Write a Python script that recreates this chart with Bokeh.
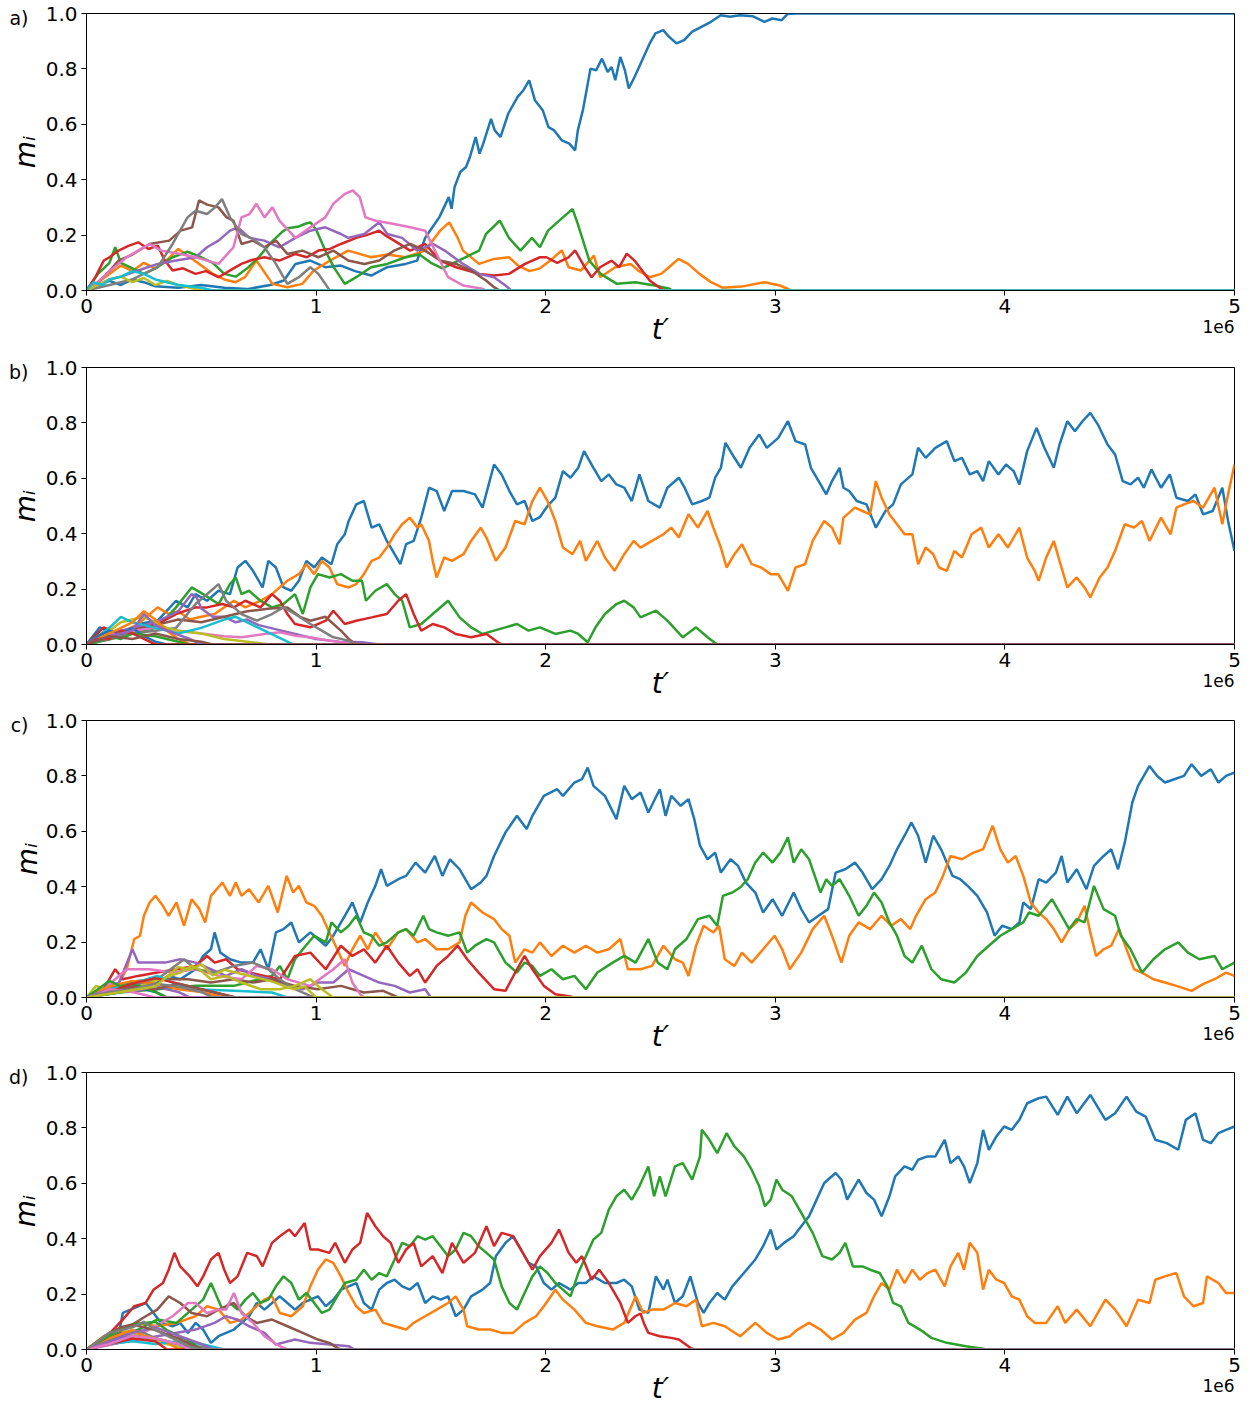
from bokeh.plotting import figure
from bokeh.layouts import column
from bokeh.models import FixedTicker, Range1d, PrintfTickFormatter, LinearAxis
from bokeh.embed import file_html
from bokeh.resources import INLINE

# ---------------- data (t' in units of 1e6, m_i) ----------------
TAB10 = ["#1f77b4", "#ff7f0e", "#2ca02c", "#d62728", "#9467bd",
         "#8c564b", "#e377c2", "#7f7f7f", "#bcbd22", "#17becf"]
X_TICKS = [0, 1, 2, 3, 4, 5]
X_TICK_LABELS = ["0", "1", "2", "3", "4", "5"]
Y_TICKS = [0.0, 0.2, 0.4, 0.6, 0.8, 1.0]
Y_TICK_LABELS = ["0.0", "0.2", "0.4", "0.6", "0.8", "1.0"]
PANEL_LETTERS = ["a)", "b)", "c)", "d)"]
X_LABEL = "t\u2032"
Y_LABEL = "m\u1d62"
X_OFFSET_LABEL = "1e6"

# ---- panel a ----
a_blue = [(0,0),(0.05,0.02),(0.1,0.035),(0.15,0.02),(0.2,0.04),(0.25,0.03),(0.3,0.015),(0.4,0.01),(0.5,0.02),(0.6,0.01),(0.7,0.005),(0.8,0.02),(0.86,0.036),(0.91,0.096),(0.975,0.108),(1.04,0.084),(1.108,0.09),(1.17,0.07),(1.24,0.054),(1.31,0.084),(1.39,0.096),(1.44,0.108),(1.475,0.19),(1.487,0.205),(1.537,0.265),(1.578,0.337),(1.59,0.295),(1.603,0.373),(1.628,0.428),(1.653,0.446),(1.67,0.482),(1.695,0.554),(1.712,0.494),(1.728,0.53),(1.762,0.62),(1.778,0.578),(1.803,0.554),(1.837,0.639),(1.878,0.699),(1.903,0.723),(1.928,0.759),(1.953,0.687),(1.987,0.651),(2.012,0.59),(2.037,0.578),(2.07,0.542),(2.103,0.53),(2.128,0.506),(2.14,0.578),(2.162,0.651),(2.178,0.723),(2.195,0.801),(2.22,0.795),(2.245,0.837),(2.27,0.789),(2.287,0.807),(2.303,0.759),(2.325,0.843),(2.345,0.795),(2.362,0.729),(2.387,0.771),(2.42,0.831),(2.453,0.892),(2.478,0.928),(2.512,0.94),(2.537,0.916),(2.57,0.892),(2.603,0.904),(2.637,0.934),(2.678,0.952),(2.72,0.97),(2.762,0.994),(2.803,0.988),(2.845,0.994),(2.903,0.99),(2.953,0.97),(2.987,0.982),(3.028,0.976),(3.053,0.998),(3.087,1.0),(5,1.0)]
a_orange = [(0,0),(0.05,0.03),(0.1,0.06),(0.15,0.09),(0.2,0.07),(0.25,0.1),(0.3,0.08),(0.35,0.11),(0.4,0.15),(0.45,0.12),(0.5,0.09),(0.55,0.06),(0.6,0.04),(0.65,0.03),(0.69,0.048),(0.74,0.108),(0.81,0.024),(0.875,0.012),(0.94,0.024),(0.99,0.072),(1.06,0.108),(1.14,0.144),(1.24,0.12),(1.31,0.13),(1.39,0.12),(1.475,0.144),(1.54,0.216),(1.58,0.246),(1.617,0.19),(1.64,0.144),(1.71,0.096),(1.775,0.114),(1.84,0.12),(1.88,0.09),(1.93,0.07),(1.975,0.08),(2.02,0.108),(2.07,0.145),(2.1,0.084),(2.153,0.072),(2.21,0.126),(2.237,0.048),(2.303,0.084),(2.37,0.096),(2.403,0.072),(2.453,0.048),(2.503,0.06),(2.537,0.084),(2.578,0.114),(2.62,0.096),(2.67,0.06),(2.72,0.03),(2.77,0.01),(2.853,0.014),(2.953,0.03),(3.02,0.018),(3.07,0.0),(5,0)]
a_green = [(0,0),(0.05,0.06),(0.1,0.1),(0.125,0.156),(0.15,0.1),(0.2,0.08),(0.25,0.06),(0.3,0.08),(0.375,0.12),(0.44,0.14),(0.5,0.12),(0.55,0.1),(0.6,0.06),(0.65,0.05),(0.7,0.08),(0.75,0.12),(0.8,0.17),(0.85,0.21),(0.875,0.225),(0.92,0.23),(0.95,0.24),(0.975,0.246),(1.0,0.22),(1.04,0.144),(1.08,0.08),(1.125,0.024),(1.175,0.048),(1.24,0.084),(1.31,0.096),(1.39,0.12),(1.45,0.13),(1.5,0.1),(1.55,0.08),(1.6,0.1),(1.65,0.12),(1.71,0.144),(1.74,0.204),(1.8,0.252),(1.84,0.19),(1.89,0.144),(1.94,0.19),(1.975,0.156),(2.01,0.216),(2.075,0.264),(2.117,0.294),(2.14,0.24),(2.19,0.108),(2.24,0.06),(2.31,0.024),(2.39,0.03),(2.475,0.018),(2.54,0.006),(2.55,0),(5,0)]
a_red = [(0,0),(0.04,0.05),(0.075,0.108),(0.1,0.12),(0.14,0.144),(0.18,0.16),(0.225,0.174),(0.27,0.15),(0.31,0.162),(0.34,0.11),(0.375,0.072),(0.42,0.08),(0.475,0.06),(0.52,0.07),(0.575,0.048),(0.62,0.07),(0.675,0.096),(0.72,0.11),(0.775,0.12),(0.84,0.108),(0.91,0.132),(0.96,0.12),(1.01,0.144),(1.06,0.15),(1.108,0.168),(1.175,0.19),(1.22,0.2),(1.275,0.216),(1.3,0.2),(1.34,0.18),(1.41,0.144),(1.475,0.168),(1.54,0.108),(1.61,0.084),(1.71,0.06),(1.775,0.054),(1.84,0.06),(1.91,0.096),(1.975,0.12),(2.003,0.12),(2.05,0.1),(2.1,0.12),(2.128,0.145),(2.17,0.084),(2.2,0.048),(2.237,0.084),(2.287,0.108),(2.32,0.084),(2.353,0.133),(2.387,0.108),(2.42,0.072),(2.453,0.036),(2.503,0.006),(2.52,0),(5,0)]
a_purple = [(0,0),(0.05,0.02),(0.1,0.04),(0.15,0.05),(0.225,0.072),(0.31,0.096),(0.39,0.108),(0.475,0.12),(0.525,0.156),(0.575,0.18),(0.625,0.216),(0.66,0.228),(0.71,0.19),(0.775,0.18),(0.84,0.156),(0.91,0.19),(0.975,0.216),(1.04,0.228),(1.108,0.204),(1.14,0.19),(1.21,0.204),(1.275,0.246),(1.31,0.204),(1.375,0.19),(1.44,0.144),(1.51,0.168),(1.56,0.144),(1.64,0.096),(1.71,0.06),(1.775,0.048),(1.825,0.018),(1.85,0),(5,0)]
a_brown = [(0,0),(0.05,0.03),(0.1,0.07),(0.14,0.108),(0.2,0.13),(0.275,0.168),(0.36,0.18),(0.41,0.216),(0.46,0.228),(0.49,0.325),(0.525,0.31),(0.575,0.3),(0.61,0.264),(0.64,0.252),(0.675,0.168),(0.725,0.18),(0.775,0.156),(0.825,0.18),(0.875,0.132),(0.94,0.144),(1.01,0.12),(1.075,0.144),(1.14,0.108),(1.21,0.096),(1.275,0.108),(1.34,0.144),(1.41,0.168),(1.475,0.144),(1.54,0.108),(1.61,0.096),(1.675,0.072),(1.74,0.036),(1.775,0.012),(1.8,0),(5,0)]
a_pink = [(0,0),(0.05,0.03),(0.1,0.07),(0.175,0.12),(0.225,0.144),(0.275,0.168),(0.325,0.144),(0.41,0.132),(0.475,0.12),(0.575,0.096),(0.64,0.156),(0.675,0.264),(0.71,0.276),(0.74,0.313),(0.775,0.264),(0.81,0.3),(0.84,0.252),(0.91,0.19),(0.975,0.228),(1.04,0.264),(1.075,0.313),(1.125,0.349),(1.16,0.361),(1.19,0.337),(1.215,0.264),(1.26,0.252),(1.34,0.24),(1.41,0.228),(1.475,0.216),(1.525,0.132),(1.575,0.048),(1.64,0.018),(1.725,0.006),(1.74,0),(5,0)]
a_gray = [(0,0),(0.1,0.02),(0.2,0.04),(0.31,0.084),(0.375,0.168),(0.44,0.264),(0.475,0.288),(0.525,0.276),(0.56,0.3),(0.59,0.33),(0.625,0.264),(0.675,0.204),(0.725,0.186),(0.775,0.156),(0.825,0.096),(0.875,0.024),(0.925,0.048),(0.975,0.084),(1.01,0.06),(1.06,0),(5,0)]
a_olive = [(0,0),(0.05,0.02),(0.1,0.04),(0.15,0.05),(0.2,0.03),(0.25,0.045),(0.3,0.02),(0.35,0.035),(0.4,0.02),(0.45,0.01),(0.5,0),(5,0)]
a_cyan = [(0,0),(0.03,0.03),(0.07,0.02),(0.1,0.04),(0.15,0.05),(0.2,0.07),(0.25,0.06),(0.3,0.04),(0.35,0.03),(0.4,0.02),(0.5,0.01),(0.55,0),(5,0)]

# ---- panel b ----
b_blue = [(0,0),(0.058,0.062),(0.14,0.026),(0.225,0.074),(0.31,0.086),(0.39,0.158),(0.44,0.134),(0.475,0.182),(0.525,0.158),(0.575,0.194),(0.625,0.182),(0.658,0.278),(0.692,0.302),(0.725,0.266),(0.767,0.206),(0.792,0.302),(0.825,0.278),(0.858,0.206),(0.892,0.194),(0.925,0.23),(0.958,0.302),(0.992,0.278),(1.025,0.314),(1.067,0.29),(1.092,0.362),(1.125,0.398),(1.142,0.446),(1.175,0.506),(1.208,0.518),(1.242,0.422),(1.275,0.434),(1.308,0.374),(1.342,0.326),(1.367,0.29),(1.392,0.362),(1.425,0.374),(1.458,0.458),(1.492,0.566),(1.525,0.554),(1.558,0.482),(1.592,0.554),(1.642,0.554),(1.692,0.542),(1.725,0.494),(1.775,0.65),(1.808,0.614),(1.842,0.554),(1.875,0.506),(1.908,0.518),(1.942,0.446),(1.975,0.46),(2.008,0.5),(2.042,0.53),(2.075,0.626),(2.108,0.602),(2.142,0.638),(2.167,0.698),(2.208,0.638),(2.242,0.59),(2.275,0.614),(2.308,0.578),(2.342,0.566),(2.375,0.518),(2.408,0.614),(2.447,0.518),(2.497,0.494),(2.53,0.566),(2.58,0.602),(2.605,0.566),(2.638,0.506),(2.68,0.518),(2.713,0.53),(2.738,0.602),(2.763,0.638),(2.783,0.728),(2.822,0.674),(2.85,0.638),(2.888,0.71),(2.93,0.758),(2.963,0.71),(3.013,0.746),(3.055,0.806),(3.088,0.734),(3.13,0.722),(3.155,0.638),(3.197,0.578),(3.222,0.542),(3.247,0.59),(3.28,0.638),(3.297,0.566),(3.322,0.554),(3.355,0.518),(3.397,0.506),(3.438,0.422),(3.48,0.482),(3.513,0.506),(3.547,0.578),(3.597,0.614),(3.622,0.71),(3.655,0.674),(3.697,0.71),(3.747,0.734),(3.78,0.662),(3.813,0.674),(3.847,0.614),(3.88,0.626),(3.905,0.59),(3.93,0.662),(3.972,0.614),(4.005,0.65),(4.038,0.626),(4.063,0.578),(4.097,0.698),(4.138,0.782),(4.172,0.71),(4.213,0.638),(4.238,0.722),(4.272,0.806),(4.305,0.77),(4.338,0.806),(4.372,0.836),(4.405,0.794),(4.447,0.722),(4.48,0.686),(4.513,0.59),(4.547,0.578),(4.58,0.602),(4.605,0.566),(4.638,0.632),(4.68,0.566),(4.718,0.614),(4.747,0.53),(4.797,0.518),(4.83,0.542),(4.863,0.47),(4.905,0.482),(4.947,0.566),(4.972,0.446),(5.0,0.338)]
b_orange = [(0,0),(0.05,0.02),(0.14,0.038),(0.225,0.074),(0.31,0.134),(0.358,0.11),(0.4,0.12),(0.45,0.09),(0.5,0.1),(0.558,0.11),(0.642,0.158),(0.692,0.134),(0.758,0.158),(0.808,0.182),(0.875,0.23),(0.925,0.254),(0.958,0.29),(0.992,0.254),(1.025,0.302),(1.058,0.278),(1.092,0.218),(1.142,0.206),(1.175,0.218),(1.208,0.254),(1.242,0.302),(1.275,0.314),(1.308,0.35),(1.342,0.398),(1.375,0.434),(1.408,0.458),(1.442,0.422),(1.458,0.434),(1.492,0.374),(1.508,0.302),(1.525,0.242),(1.558,0.314),(1.592,0.302),(1.642,0.326),(1.675,0.374),(1.717,0.422),(1.742,0.386),(1.783,0.302),(1.825,0.35),(1.867,0.446),(1.908,0.434),(1.942,0.518),(1.975,0.566),(2.008,0.518),(2.042,0.446),(2.075,0.35),(2.117,0.326),(2.15,0.374),(2.175,0.302),(2.225,0.374),(2.258,0.314),(2.3,0.266),(2.342,0.326),(2.383,0.374),(2.413,0.35),(2.463,0.374),(2.513,0.398),(2.547,0.422),(2.58,0.386),(2.622,0.47),(2.663,0.422),(2.705,0.482),(2.73,0.422),(2.763,0.35),(2.788,0.278),(2.822,0.326),(2.855,0.362),(2.897,0.29),(2.938,0.278),(2.98,0.254),(3.013,0.254),(3.055,0.194),(3.088,0.278),(3.13,0.29),(3.163,0.374),(3.213,0.446),(3.247,0.422),(3.28,0.362),(3.297,0.458),(3.347,0.494),(3.38,0.482),(3.413,0.47),(3.438,0.59),(3.463,0.53),(3.497,0.47),(3.53,0.434),(3.563,0.398),(3.597,0.398),(3.622,0.29),(3.655,0.35),(3.688,0.326),(3.713,0.278),(3.747,0.266),(3.78,0.338),(3.813,0.314),(3.855,0.398),(3.897,0.422),(3.93,0.35),(3.972,0.398),(4.013,0.35),(4.063,0.422),(4.097,0.314),(4.13,0.266),(4.147,0.23),(4.18,0.314),(4.213,0.374),(4.238,0.302),(4.272,0.206),(4.313,0.242),(4.347,0.206),(4.372,0.17),(4.413,0.242),(4.447,0.278),(4.48,0.338),(4.522,0.434),(4.563,0.422),(4.597,0.446),(4.63,0.374),(4.68,0.458),(4.722,0.398),(4.747,0.494),(4.78,0.506),(4.822,0.518),(4.863,0.494),(4.913,0.566),(4.947,0.434),(4.972,0.542),(5.0,0.65)]
b_green = [(0,0),(0.14,0.026),(0.31,0.062),(0.39,0.134),(0.458,0.206),(0.508,0.182),(0.575,0.146),(0.625,0.218),(0.65,0.242),(0.675,0.182),(0.708,0.194),(0.758,0.158),(0.808,0.134),(0.858,0.146),(0.908,0.182),(0.942,0.11),(0.975,0.206),(1.008,0.254),(1.058,0.242),(1.108,0.254),(1.158,0.23),(1.2,0.23),(1.217,0.158),(1.258,0.194),(1.308,0.218),(1.342,0.182),(1.375,0.158),(1.408,0.062),(1.458,0.074),(1.508,0.11),(1.575,0.158),(1.625,0.098),(1.675,0.062),(1.725,0.038),(1.775,0.05),(1.825,0.062),(1.875,0.074),(1.925,0.05),(1.975,0.062),(2.042,0.038),(2.108,0.05),(2.142,0.038),(2.183,0.008),(2.217,0.062),(2.258,0.11),(2.308,0.146),(2.342,0.158),(2.383,0.134),(2.413,0.098),(2.48,0.122),(2.53,0.086),(2.597,0.026),(2.655,0.062),(2.705,0.026),(2.747,0),(5,0)]
b_red = [(0,0),(0.075,0.062),(0.14,0.038),(0.225,0.062),(0.31,0.074),(0.39,0.11),(0.475,0.134),(0.525,0.134),(0.592,0.146),(0.642,0.134),(0.692,0.158),(0.758,0.134),(0.808,0.182),(0.842,0.158),(0.875,0.11),(0.908,0.074),(0.975,0.062),(1.042,0.086),(1.075,0.122),(1.125,0.074),(1.175,0.086),(1.242,0.098),(1.308,0.11),(1.358,0.158),(1.392,0.182),(1.425,0.11),(1.458,0.05),(1.508,0.074),(1.558,0.062),(1.608,0.038),(1.675,0.026),(1.742,0.038),(1.792,0.008),(1.808,0),(5,0)]
b_purple = [(0,0),(0.1,0.04),(0.2,0.06),(0.3,0.08),(0.4,0.12),(0.458,0.182),(0.48,0.17),(0.5,0.13),(0.55,0.1),(0.6,0.1),(0.65,0.08),(0.7,0.09),(0.75,0.07),(0.8,0.06),(0.85,0.05),(0.9,0.04),(1.0,0.02),(1.1,0.01),(1.2,0.008),(1.275,0),(5,0)]
b_brown = [(0,0),(0.1,0.03),(0.2,0.05),(0.3,0.07),(0.4,0.09),(0.5,0.08),(0.6,0.1),(0.7,0.12),(0.8,0.13),(0.875,0.134),(0.93,0.1),(0.975,0.086),(1.04,0.1),(1.108,0.05),(1.142,0.02),(1.175,0),(5,0)]
b_pink = [(0,0),(0.1,0.04),(0.2,0.05),(0.3,0.06),(0.4,0.05),(0.5,0.04),(0.6,0.03),(0.675,0.026),(0.775,0.038),(0.842,0.044),(0.908,0.032),(0.975,0.026),(1.058,0.014),(1.142,0.005),(1.16,0),(5,0)]
b_gray = [(0,0),(0.1,0.02),(0.2,0.04),(0.3,0.05),(0.39,0.06),(0.475,0.146),(0.542,0.194),(0.575,0.218),(0.608,0.158),(0.642,0.134),(0.675,0.11),(0.742,0.086),(0.808,0.11),(0.858,0.134),(0.908,0.11),(0.975,0.074),(1.025,0.05),(1.075,0.026),(1.142,0.014),(1.175,0),(5,0)]
b_olive = [(0,0),(0.1,0.05),(0.15,0.08),(0.2,0.09),(0.25,0.1),(0.3,0.08),(0.35,0.06),(0.4,0.05),(0.5,0.04),(0.6,0.02),(0.7,0.01),(0.8,0),(5,0)]
b_cyan = [(0,0),(0.1,0.06),(0.15,0.1),(0.2,0.08),(0.3,0.06),(0.4,0.04),(0.5,0.06),(0.6,0.09),(0.65,0.1),(0.7,0.08),(0.75,0.06),(0.8,0.04),(0.85,0.02),(0.9,0),(5,0)]
b_blue2 = [(0,0),(0.05,0.03),(0.1,0.05),(0.15,0.04),(0.2,0.06),(0.25,0.03),(0.3,0.01),(0.35,0),(5,0)]
b_orange2 = [(0,0),(0.05,0.02),(0.1,0.04),(0.2,0.08),(0.25,0.12),(0.3,0.09),(0.35,0.05),(0.4,0.02),(0.45,0),(5,0)]
b_green2 = [(0,0),(0.05,0.01),(0.1,0.03),(0.15,0.02),(0.2,0.04),(0.3,0.03),(0.4,0.01),(0.45,0),(5,0)]
b_red2 = [(0,0),(0.05,0.02),(0.1,0.02),(0.15,0.05),(0.2,0.04),(0.25,0.02),(0.3,0),(5,0)]
b_purple2 = [(0,0),(0.1,0.03),(0.2,0.05),(0.25,0.11),(0.3,0.07),(0.35,0.05),(0.45,0.02),(0.5,0),(5,0)]
b_brown2 = [(0,0),(0.05,0.015),(0.1,0.03),(0.2,0.02),(0.3,0.04),(0.4,0.02),(0.5,0.01),(0.55,0),(5,0)]

# ---- panel c ----
c_blue = [(0,0),(0.142,0.018),(0.225,0.03),(0.308,0.054),(0.358,0.078),(0.408,0.066),(0.475,0.102),(0.508,0.15),(0.542,0.174),(0.558,0.235),(0.583,0.162),(0.625,0.138),(0.675,0.126),(0.725,0.126),(0.758,0.174),(0.792,0.102),(0.825,0.235),(0.858,0.247),(0.892,0.271),(0.925,0.199),(0.975,0.235),(1.008,0.211),(1.042,0.187),(1.075,0.223),(1.125,0.295),(1.158,0.343),(1.192,0.271),(1.225,0.343),(1.258,0.403),(1.283,0.463),(1.308,0.403),(1.358,0.427),(1.392,0.439),(1.433,0.487),(1.475,0.451),(1.517,0.511),(1.55,0.439),(1.583,0.499),(1.625,0.463),(1.675,0.391),(1.717,0.415),(1.742,0.439),(1.775,0.511),(1.825,0.596),(1.875,0.656),(1.917,0.608),(1.942,0.656),(1.992,0.728),(2.05,0.752),(2.075,0.728),(2.125,0.776),(2.158,0.788),(2.183,0.83),(2.208,0.764),(2.258,0.728),(2.308,0.644),(2.342,0.764),(2.375,0.716),(2.413,0.74),(2.447,0.668),(2.497,0.752),(2.522,0.656),(2.547,0.728),(2.588,0.692),(2.622,0.716),(2.647,0.644),(2.672,0.548),(2.705,0.499),(2.738,0.523),(2.763,0.451),(2.805,0.499),(2.838,0.475),(2.872,0.415),(2.913,0.379),(2.947,0.307),(2.988,0.355),(3.03,0.295),(3.08,0.379),(3.113,0.319),(3.147,0.271),(3.188,0.295),(3.23,0.319),(3.263,0.451),(3.305,0.463),(3.347,0.487),(3.38,0.451),(3.422,0.391),(3.463,0.427),(3.497,0.475),(3.53,0.535),(3.563,0.584),(3.593,0.632),(3.622,0.584),(3.655,0.487),(3.688,0.584),(3.722,0.535),(3.747,0.487),(3.772,0.439),(3.805,0.427),(3.838,0.403),(3.88,0.367),(3.922,0.307),(3.955,0.223),(3.988,0.259),(4.03,0.247),(4.063,0.271),(4.08,0.343),(4.113,0.319),(4.147,0.427),(4.18,0.415),(4.222,0.451),(4.247,0.511),(4.272,0.415),(4.313,0.463),(4.355,0.391),(4.388,0.475),(4.43,0.511),(4.463,0.535),(4.493,0.463),(4.522,0.559),(4.555,0.704),(4.58,0.764),(4.63,0.836),(4.663,0.8),(4.697,0.776),(4.738,0.788),(4.78,0.8),(4.813,0.842),(4.855,0.8),(4.897,0.824),(4.93,0.776),(4.963,0.8),(5.0,0.812)]
c_orange = [(0,0),(0.075,0.018),(0.142,0.054),(0.175,0.102),(0.208,0.211),(0.233,0.223),(0.25,0.295),(0.275,0.343),(0.3,0.367),(0.333,0.331),(0.358,0.295),(0.392,0.343),(0.425,0.259),(0.458,0.355),(0.492,0.319),(0.517,0.271),(0.542,0.367),(0.592,0.415),(0.625,0.367),(0.65,0.415),(0.675,0.367),(0.708,0.391),(0.75,0.343),(0.792,0.403),(0.833,0.307),(0.872,0.439),(0.9,0.379),(0.925,0.403),(0.958,0.343),(0.992,0.331),(1.025,0.295),(1.058,0.235),(1.092,0.174),(1.125,0.114),(1.158,0.174),(1.192,0.223),(1.225,0.174),(1.258,0.235),(1.308,0.174),(1.358,0.235),(1.392,0.247),(1.442,0.199),(1.475,0.211),(1.525,0.174),(1.575,0.174),(1.625,0.199),(1.65,0.295),(1.675,0.343),(1.725,0.307),(1.775,0.283),(1.808,0.247),(1.842,0.223),(1.867,0.126),(1.908,0.174),(1.942,0.162),(1.975,0.199),(2.025,0.15),(2.075,0.187),(2.125,0.162),(2.175,0.187),(2.225,0.162),(2.275,0.174),(2.325,0.211),(2.358,0.102),(2.413,0.102),(2.463,0.114),(2.513,0.187),(2.563,0.138),(2.597,0.126),(2.622,0.078),(2.655,0.187),(2.688,0.259),(2.73,0.235),(2.755,0.259),(2.78,0.138),(2.822,0.114),(2.855,0.162),(2.897,0.126),(2.947,0.174),(2.997,0.223),(3.03,0.174),(3.063,0.102),(3.113,0.162),(3.163,0.247),(3.213,0.295),(3.247,0.223),(3.288,0.126),(3.322,0.223),(3.363,0.271),(3.413,0.247),(3.463,0.295),(3.505,0.259),(3.547,0.283),(3.588,0.247),(3.613,0.295),(3.655,0.355),(3.697,0.379),(3.73,0.439),(3.763,0.511),(3.813,0.499),(3.863,0.523),(3.905,0.535),(3.947,0.62),(3.98,0.535),(4.013,0.487),(4.047,0.511),(4.08,0.439),(4.113,0.343),(4.147,0.307),(4.18,0.283),(4.213,0.247),(4.247,0.199),(4.28,0.247),(4.313,0.271),(4.347,0.331),(4.372,0.235),(4.397,0.15),(4.43,0.174),(4.463,0.187),(4.497,0.247),(4.53,0.174),(4.563,0.102),(4.597,0.09),(4.647,0.066),(4.697,0.054),(4.747,0.042),(4.813,0.024),(4.863,0.048),(4.913,0.066),(4.963,0.09),(5.0,0.078)]
c_green = [(0,0),(0.142,0.018),(0.308,0.03),(0.475,0.042),(0.642,0.042),(0.808,0.078),(0.842,0.114),(0.875,0.066),(0.908,0.138),(0.942,0.174),(0.992,0.223),(1.042,0.199),(1.067,0.271),(1.108,0.235),(1.142,0.259),(1.175,0.295),(1.208,0.235),(1.242,0.223),(1.275,0.187),(1.308,0.199),(1.358,0.235),(1.392,0.247),(1.425,0.223),(1.467,0.295),(1.492,0.247),(1.525,0.235),(1.575,0.223),(1.625,0.235),(1.658,0.162),(1.692,0.187),(1.742,0.211),(1.775,0.199),(1.825,0.126),(1.875,0.09),(1.908,0.126),(1.942,0.114),(1.975,0.078),(2.025,0.102),(2.075,0.066),(2.125,0.078),(2.175,0.03),(2.225,0.09),(2.292,0.126),(2.342,0.15),(2.392,0.126),(2.447,0.211),(2.488,0.126),(2.53,0.102),(2.563,0.174),(2.613,0.211),(2.663,0.283),(2.713,0.295),(2.747,0.259),(2.772,0.367),(2.813,0.379),(2.847,0.397),(2.88,0.427),(2.913,0.487),(2.947,0.523),(2.988,0.487),(3.022,0.523),(3.055,0.578),(3.08,0.487),(3.113,0.535),(3.147,0.499),(3.172,0.439),(3.197,0.379),(3.222,0.427),(3.247,0.403),(3.28,0.427),(3.322,0.367),(3.363,0.295),(3.397,0.331),(3.43,0.379),(3.463,0.343),(3.497,0.271),(3.53,0.223),(3.563,0.15),(3.597,0.126),(3.638,0.187),(3.68,0.102),(3.722,0.066),(3.78,0.054),(3.83,0.09),(3.88,0.15),(3.93,0.187),(3.98,0.223),(4.03,0.247),(4.08,0.271),(4.105,0.307),(4.147,0.295),(4.205,0.355),(4.247,0.295),(4.28,0.247),(4.313,0.283),(4.347,0.271),(4.388,0.403),(4.43,0.319),(4.48,0.295),(4.505,0.223),(4.547,0.174),(4.597,0.09),(4.647,0.138),(4.697,0.174),(4.755,0.199),(4.797,0.162),(4.847,0.138),(4.913,0.15),(4.947,0.102),(5.0,0.126)]
c_red = [(0,0),(0.075,0.03),(0.125,0.102),(0.158,0.066),(0.225,0.078),(0.308,0.09),(0.392,0.102),(0.475,0.114),(0.525,0.15),(0.558,0.126),(0.608,0.138),(0.658,0.102),(0.708,0.09),(0.775,0.078),(0.842,0.066),(0.908,0.15),(0.975,0.162),(1.042,0.102),(1.108,0.187),(1.158,0.15),(1.208,0.174),(1.258,0.126),(1.308,0.187),(1.358,0.126),(1.408,0.078),(1.442,0.102),(1.475,0.054),(1.525,0.114),(1.575,0.15),(1.617,0.187),(1.658,0.138),(1.708,0.09),(1.775,0.03),(1.825,0.024),(1.875,0.102),(1.908,0.15),(1.942,0.102),(1.992,0.042),(2.042,0.012),(2.108,0.004),(2.125,0),(5,0)]
c_purple = [(0,0),(0.05,0.02),(0.1,0.04),(0.142,0.054),(0.2,0.174),(0.225,0.126),(0.275,0.126),(0.342,0.126),(0.408,0.138),(0.475,0.126),(0.542,0.102),(0.608,0.078),(0.675,0.102),(0.742,0.078),(0.808,0.066),(0.875,0.042),(0.942,0.03),(1.008,0.054),(1.075,0.054),(1.142,0.102),(1.208,0.078),(1.275,0.054),(1.342,0.042),(1.408,0.018),(1.475,0.03),(1.5,0),(5,0)]
c_brown = [(0,0),(0.07,0.02),(0.142,0.042),(0.22,0.06),(0.308,0.066),(0.442,0.066),(0.542,0.054),(0.642,0.066),(0.725,0.054),(0.808,0.066),(0.908,0.042),(1.008,0.03),(1.108,0.042),(1.208,0.018),(1.292,0.024),(1.358,0),(5,0)]
c_pink = [(0,0),(0.075,0.03),(0.175,0.102),(0.275,0.102),(0.375,0.09),(0.475,0.102),(0.575,0.078),(0.675,0.066),(0.742,0.114),(0.808,0.102),(0.875,0.066),(0.975,0.042),(1.075,0.102),(1.125,0.138),(1.158,0.054),(1.192,0.012),(1.208,0),(5,0)]
c_gray = [(0,0),(0.142,0.03),(0.308,0.066),(0.425,0.138),(0.475,0.102),(0.558,0.09),(0.642,0.114),(0.725,0.126),(0.792,0.102),(0.842,0.066),(0.908,0.03),(0.975,0.006),(0.992,0),(5,0)]
c_olive = [(0,0),(0.042,0.042),(0.108,0.018),(0.2,0.03),(0.3,0.06),(0.408,0.09),(0.458,0.114),(0.492,0.102),(0.542,0.066),(0.608,0.078),(0.675,0.054),(0.758,0.03),(0.842,0.03),(0.908,0.042),(0.975,0.066),(1.025,0.03),(1.075,0),(5,0)]
c_cyan = [(0,0),(0.1,0.03),(0.2,0.05),(0.308,0.078),(0.375,0.054),(0.475,0.03),(0.642,0.024),(0.808,0.018),(0.875,0),(5,0)]
c_blue2 = [(0,0),(0.05,0.02),(0.1,0.03),(0.15,0.02),(0.2,0.04),(0.3,0.02),(0.35,0),(5,0)]
c_orange2 = [(0,0),(0.1,0.04),(0.2,0.06),(0.3,0.05),(0.4,0.03),(0.5,0.02),(0.6,0),(5,0)]
c_green2 = [(0,0),(0.05,0.03),(0.1,0.06),(0.15,0.04),(0.2,0.05),(0.3,0.02),(0.35,0),(5,0)]
c_red2 = [(0,0),(0.1,0.02),(0.2,0.05),(0.3,0.07),(0.4,0.05),(0.5,0.03),(0.6,0.01),(0.65,0),(5,0)]
c_purple2 = [(0,0),(0.1,0.03),(0.2,0.02),(0.3,0.04),(0.4,0.02),(0.45,0),(5,0)]
c_brown2 = [(0,0),(0.1,0.02),(0.2,0.04),(0.3,0.03),(0.4,0.05),(0.5,0.03),(0.6,0.01),(0.65,0),(5,0)]
c_pink2 = [(0,0),(0.05,0.01),(0.1,0.03),(0.2,0.02),(0.25,0.01),(0.3,0),(5,0)]
c_gray2 = [(0,0),(0.1,0.02),(0.2,0.03),(0.3,0.05),(0.4,0.04),(0.5,0.02),(0.55,0),(5,0)]
c_olive2 = [(0,0),(0.3,0.04),(0.4,0.11),(0.45,0.1),(0.5,0.12),(0.55,0.08),(0.6,0.1),(0.7,0.08),(0.8,0.06),(0.9,0.03),(0.95,0.04),(1.0,0),(5,0)]

# ---- panel d ----
d_blue = [(0,0),(0.075,0.024),(0.142,0.06),(0.158,0.132),(0.192,0.144),(0.225,0.156),(0.258,0.168),(0.292,0.132),(0.325,0.096),(0.375,0.084),(0.408,0.096),(0.442,0.06),(0.475,0.096),(0.508,0.072),(0.542,0.024),(0.575,0.048),(0.608,0.06),(0.642,0.072),(0.675,0.096),(0.708,0.12),(0.742,0.168),(0.775,0.144),(0.808,0.168),(0.842,0.192),(0.875,0.168),(0.908,0.144),(0.942,0.168),(0.975,0.18),(1.008,0.192),(1.042,0.156),(1.075,0.18),(1.108,0.216),(1.142,0.228),(1.175,0.24),(1.208,0.168),(1.242,0.144),(1.275,0.216),(1.308,0.24),(1.342,0.252),(1.375,0.228),(1.408,0.216),(1.442,0.24),(1.475,0.168),(1.508,0.192),(1.542,0.18),(1.575,0.192),(1.608,0.12),(1.642,0.144),(1.675,0.192),(1.725,0.216),(1.758,0.24),(1.783,0.337),(1.825,0.385),(1.858,0.409),(1.892,0.361),(1.925,0.313),(1.958,0.3),(1.992,0.24),(2.025,0.216),(2.058,0.24),(2.108,0.216),(2.142,0.24),(2.175,0.24),(2.208,0.264),(2.258,0.24),(2.308,0.24),(2.342,0.252),(2.375,0.228),(2.408,0.144),(2.447,0.132),(2.48,0.264),(2.513,0.216),(2.53,0.252),(2.563,0.168),(2.597,0.192),(2.63,0.264),(2.663,0.168),(2.688,0.132),(2.713,0.168),(2.747,0.204),(2.78,0.18),(2.813,0.228),(2.863,0.276),(2.913,0.325),(2.947,0.373),(2.98,0.433),(3.005,0.361),(3.038,0.385),(3.08,0.409),(3.113,0.445),(3.147,0.481),(3.18,0.541),(3.213,0.601),(3.263,0.637),(3.288,0.613),(3.313,0.541),(3.363,0.613),(3.397,0.565),(3.43,0.541),(3.463,0.481),(3.497,0.553),(3.522,0.625),(3.563,0.661),(3.597,0.649),(3.622,0.685),(3.663,0.697),(3.697,0.697),(3.738,0.757),(3.763,0.673),(3.797,0.697),(3.822,0.661),(3.847,0.601),(3.88,0.673),(3.905,0.793),(3.93,0.721),(3.963,0.769),(3.997,0.805),(4.03,0.793),(4.063,0.829),(4.097,0.889),(4.147,0.907),(4.18,0.913),(4.23,0.847),(4.272,0.913),(4.313,0.853),(4.372,0.919),(4.438,0.829),(4.48,0.853),(4.53,0.913),(4.572,0.859),(4.613,0.841),(4.655,0.757),(4.705,0.745),(4.755,0.721),(4.788,0.829),(4.83,0.853),(4.863,0.757),(4.897,0.745),(4.93,0.781),(4.963,0.793),(5.0,0.805)]
d_orange = [(0,0),(0.075,0.048),(0.142,0.072),(0.225,0.096),(0.308,0.084),(0.392,0.096),(0.475,0.12),(0.525,0.156),(0.575,0.144),(0.625,0.096),(0.675,0.108),(0.725,0.144),(0.775,0.18),(0.808,0.192),(0.842,0.132),(0.892,0.12),(0.942,0.156),(0.975,0.228),(1.008,0.288),(1.042,0.325),(1.075,0.313),(1.108,0.264),(1.142,0.204),(1.175,0.156),(1.208,0.132),(1.258,0.144),(1.292,0.096),(1.342,0.084),(1.392,0.072),(1.425,0.096),(1.475,0.12),(1.525,0.144),(1.575,0.168),(1.608,0.192),(1.642,0.144),(1.658,0.084),(1.708,0.072),(1.758,0.072),(1.808,0.06),(1.858,0.06),(1.908,0.096),(1.958,0.12),(1.992,0.156),(2.042,0.216),(2.075,0.18),(2.125,0.144),(2.175,0.096),(2.225,0.084),(2.292,0.072),(2.342,0.096),(2.392,0.192),(2.425,0.132),(2.463,0.144),(2.513,0.144),(2.563,0.168),(2.613,0.156),(2.655,0.18),(2.68,0.084),(2.73,0.096),(2.78,0.084),(2.847,0.048),(2.913,0.096),(2.963,0.06),(3.013,0.036),(3.063,0.048),(3.097,0.072),(3.147,0.096),(3.197,0.072),(3.247,0.036),(3.297,0.06),(3.347,0.108),(3.397,0.132),(3.43,0.192),(3.463,0.24),(3.497,0.216),(3.53,0.288),(3.563,0.24),(3.597,0.288),(3.63,0.252),(3.663,0.276),(3.697,0.288),(3.738,0.228),(3.763,0.3),(3.797,0.349),(3.822,0.288),(3.847,0.385),(3.88,0.349),(3.905,0.216),(3.93,0.288),(3.963,0.252),(3.997,0.24),(4.03,0.192),(4.063,0.18),(4.097,0.12),(4.13,0.096),(4.18,0.096),(4.23,0.156),(4.263,0.096),(4.313,0.144),(4.372,0.084),(4.438,0.18),(4.48,0.144),(4.53,0.084),(4.58,0.18),(4.63,0.168),(4.655,0.252),(4.697,0.264),(4.747,0.276),(4.78,0.192),(4.822,0.156),(4.863,0.168),(4.88,0.264),(4.93,0.24),(4.963,0.204),(5.0,0.204)]
d_green = [(0,0),(0.142,0.048),(0.225,0.072),(0.308,0.108),(0.392,0.096),(0.458,0.144),(0.508,0.18),(0.542,0.24),(0.567,0.192),(0.592,0.144),(0.625,0.168),(0.658,0.144),(0.692,0.18),(0.725,0.204),(0.758,0.168),(0.792,0.18),(0.825,0.228),(0.858,0.264),(0.892,0.24),(0.925,0.18),(0.958,0.204),(0.992,0.168),(1.025,0.132),(1.058,0.144),(1.092,0.192),(1.125,0.24),(1.175,0.252),(1.208,0.288),(1.242,0.252),(1.275,0.276),(1.308,0.264),(1.342,0.325),(1.375,0.385),(1.408,0.373),(1.442,0.409),(1.475,0.397),(1.508,0.409),(1.542,0.373),(1.575,0.337),(1.608,0.361),(1.642,0.421),(1.675,0.409),(1.708,0.373),(1.742,0.349),(1.775,0.325),(1.808,0.228),(1.842,0.168),(1.875,0.144),(1.908,0.204),(1.942,0.264),(1.975,0.3),(2.008,0.276),(2.042,0.24),(2.075,0.216),(2.108,0.192),(2.142,0.276),(2.175,0.337),(2.208,0.397),(2.242,0.421),(2.275,0.505),(2.308,0.553),(2.342,0.577),(2.375,0.541),(2.408,0.589),(2.447,0.661),(2.472,0.553),(2.497,0.625),(2.522,0.553),(2.563,0.661),(2.597,0.673),(2.638,0.613),(2.672,0.697),(2.68,0.793),(2.713,0.757),(2.747,0.709),(2.788,0.781),(2.822,0.733),(2.863,0.697),(2.897,0.649),(2.93,0.589),(2.955,0.517),(2.98,0.541),(3.005,0.613),(3.03,0.577),(3.072,0.553),(3.097,0.517),(3.13,0.469),(3.163,0.421),(3.205,0.337),(3.247,0.325),(3.28,0.349),(3.305,0.385),(3.338,0.3),(3.38,0.3),(3.413,0.288),(3.455,0.276),(3.488,0.228),(3.513,0.168),(3.547,0.156),(3.58,0.096),(3.63,0.072),(3.68,0.042),(3.747,0.024),(3.83,0.012),(3.913,0.002),(3.93,0),(5,0)]
d_red = [(0,0),(0.075,0.036),(0.158,0.108),(0.208,0.156),(0.258,0.168),(0.292,0.216),(0.333,0.24),(0.358,0.288),(0.383,0.349),(0.408,0.3),(0.45,0.264),(0.483,0.228),(0.508,0.264),(0.542,0.325),(0.575,0.349),(0.6,0.288),(0.625,0.24),(0.658,0.264),(0.7,0.349),(0.742,0.337),(0.767,0.3),(0.808,0.385),(0.842,0.409),(0.883,0.433),(0.908,0.409),(0.95,0.457),(0.975,0.361),(1.008,0.361),(1.058,0.349),(1.083,0.385),(1.125,0.313),(1.158,0.361),(1.192,0.385),(1.222,0.493),(1.258,0.445),(1.292,0.409),(1.325,0.385),(1.358,0.313),(1.392,0.361),(1.425,0.385),(1.458,0.3),(1.508,0.337),(1.55,0.276),(1.592,0.385),(1.642,0.313),(1.692,0.349),(1.742,0.445),(1.775,0.373),(1.808,0.421),(1.858,0.409),(1.892,0.361),(1.942,0.288),(1.975,0.337),(2.025,0.385),(2.058,0.433),(2.1,0.349),(2.133,0.313),(2.158,0.337),(2.2,0.252),(2.233,0.288),(2.275,0.24),(2.325,0.168),(2.358,0.096),(2.39,0.12),(2.413,0.13),(2.43,0.09),(2.447,0.06),(2.497,0.048),(2.547,0.042),(2.58,0.036),(2.63,0.006),(2.647,0),(5,0)]
d_purple = [(0,0),(0.142,0.024),(0.308,0.048),(0.475,0.072),(0.558,0.096),(0.608,0.12),(0.658,0.108),(0.708,0.084),(0.775,0.06),(0.825,0.018),(0.908,0.036),(0.975,0.024),(1.058,0.018),(1.142,0.012),(1.167,0),(5,0)]
d_brown = [(0,0),(0.07,0.03),(0.142,0.06),(0.258,0.12),(0.308,0.144),(0.358,0.192),(0.408,0.168),(0.458,0.132),(0.525,0.12),(0.575,0.144),(0.642,0.168),(0.692,0.12),(0.742,0.096),(0.808,0.108),(0.875,0.084),(0.942,0.06),(1.008,0.036),(1.058,0.024),(1.092,0.006),(1.108,0),(5,0)]
d_pink = [(0,0),(0.142,0.024),(0.275,0.072),(0.375,0.12),(0.442,0.168),(0.475,0.168),(0.525,0.132),(0.575,0.144),(0.608,0.144),(0.642,0.204),(0.675,0.132),(0.725,0.096),(0.775,0.048),(0.842,0.012),(0.875,0),(5,0)]
d_gray = [(0,0),(0.1,0.04),(0.2,0.07),(0.25,0.06),(0.3,0.04),(0.4,0.02),(0.5,0.01),(0.55,0),(5,0)]
d_olive = [(0,0),(0.1,0.05),(0.15,0.07),(0.2,0.06),(0.3,0.03),(0.4,0.01),(0.45,0),(5,0)]
d_cyan = [(0,0),(0.1,0.02),(0.2,0.03),(0.3,0.02),(0.4,0.03),(0.5,0.02),(0.55,0.01),(0.6,0),(5,0)]
d_blue2 = [(0,0),(0.1,0.03),(0.2,0.05),(0.3,0.04),(0.4,0.02),(0.45,0),(5,0)]
d_orange2 = [(0,0),(0.1,0.04),(0.2,0.07),(0.25,0.05),(0.35,0.03),(0.4,0),(5,0)]
d_green2 = [(0,0),(0.1,0.05),(0.2,0.09),(0.3,0.1),(0.35,0.07),(0.45,0.03),(0.5,0),(5,0)]
d_red2 = [(0,0),(0.1,0.02),(0.2,0.04),(0.3,0.03),(0.35,0),(5,0)]
d_purple2 = [(0,0),(0.1,0.03),(0.2,0.06),(0.3,0.08),(0.4,0.05),(0.5,0.02),(0.55,0),(5,0)]
d_brown2 = [(0,0),(0.1,0.06),(0.15,0.08),(0.2,0.09),(0.3,0.07),(0.4,0.04),(0.5,0),(5,0)]
d_pink2 = [(0,0),(0.1,0.02),(0.2,0.05),(0.3,0.04),(0.4,0.02),(0.45,0),(5,0)]
d_gray2 = [(0,0),(0.05,0.03),(0.1,0.06),(0.2,0.08),(0.25,0.1),(0.3,0.07),(0.4,0.03),(0.45,0.01),(0.5,0),(5,0)]

PANEL_A = [a_blue, a_orange, a_green, a_red, a_purple, a_brown, a_pink, a_gray, a_olive, a_cyan]
PANEL_B = [b_blue, b_orange, b_green, b_red, b_purple, b_brown, b_pink, b_gray, b_olive, b_cyan,
           b_blue2, b_orange2, b_green2, b_red2, b_purple2, b_brown2]
PANEL_C = [c_blue, c_orange, c_green, c_red, c_purple, c_brown, c_pink, c_gray, c_olive, c_cyan,
           c_blue2, c_orange2, c_green2, c_red2, c_purple2, c_brown2, c_pink2, c_gray2, c_olive2]
PANEL_D = [d_blue, d_orange, d_green, d_red, d_purple, d_brown, d_pink, d_gray, d_olive, d_cyan,
           d_blue2, d_orange2, d_green2, d_red2, d_purple2, d_brown2, d_pink2, d_gray2]

FONT = "DejaVu Sans"
FRAME_W = 1148
FRAME_H = 277
BORDER_L = 86
BORDER_T = 13

# positions of the extra texts (panel letter beside the top of the y axis,
# multiplier text under the right end of the x axis)
LETTER_Y = 0.982
OFFSET_X = 4.93


def text_axis(text, tick, size, standoff):
    """A plain outer axis (no ticks, no line) that shows one text as its only tick label."""
    ax = LinearAxis(ticker=FixedTicker(ticks=[tick]),
                    formatter=PrintfTickFormatter(format=text),
                    major_label_overrides={tick: text})
    ax.axis_line_color = None
    ax.major_tick_line_color = None
    ax.minor_tick_line_color = None
    ax.major_tick_in = 0
    ax.major_tick_out = 0
    ax.major_label_standoff = standoff
    ax.major_label_text_font = FONT
    ax.major_label_text_font_size = size
    ax.major_label_text_color = "black"
    ax.axis_label_text_font = FONT
    ax.axis_label_text_font_style = "italic"
    ax.axis_label_text_font_size = "28px"
    ax.axis_label_text_color = "black"
    return ax


def make_panel(series, letter, bottom_border):
    p = figure(frame_width=FRAME_W, frame_height=FRAME_H,
               x_range=Range1d(0, 5), y_range=Range1d(0, 1),
               output_backend="svg", toolbar_location=None,
               min_border_left=BORDER_L, min_border_right=12,
               min_border_top=BORDER_T, min_border_bottom=bottom_border,
               background_fill_color="white", border_fill_color="white")
    for i, s in enumerate(series):
        p.line([q[0] for q in s], [q[1] for q in s],
               line_color=TAB10[i % 10], line_width=2.5)

    p.xgrid.visible = False
    p.ygrid.visible = False
    p.outline_line_color = "black"
    p.outline_line_width = 1
    p.outline_line_alpha = 1

    p.xaxis.ticker = FixedTicker(ticks=X_TICKS)
    p.xaxis.formatter = PrintfTickFormatter(format="%d")
    p.xaxis.major_label_overrides = {float(t): l for t, l in zip(X_TICKS, X_TICK_LABELS)}
    p.yaxis.ticker = FixedTicker(ticks=Y_TICKS)
    p.yaxis.formatter = PrintfTickFormatter(format="%.1f")
    p.yaxis.major_label_overrides = {float(t): l for t, l in zip(Y_TICKS, Y_TICK_LABELS)}

    for ax in (p.xaxis[0], p.yaxis[0]):
        ax.axis_line_color = "black"
        ax.major_tick_line_color = "black"
        ax.major_tick_in = 0
        ax.major_tick_out = 5
        ax.minor_tick_line_color = None
        ax.major_label_text_font = FONT
        ax.major_label_text_font_size = "20px"
        ax.major_label_text_color = "black"
    p.xaxis.major_label_standoff = 3
    p.yaxis.major_label_standoff = 4

    # outer x axis: the "1e6" multiplier as its tick label, t' as its axis label
    outer_x = text_axis(X_OFFSET_LABEL, OFFSET_X, "17px", 4)
    outer_x.axis_label = X_LABEL
    outer_x.axis_label_standoff = -23
    p.add_layout(outer_x, "below")

    # outer y axis: the panel letter as its tick label, m_i as its axis label
    outer_y = text_axis(letter, LETTER_Y, "19px", 14)
    outer_y.axis_label = Y_LABEL
    outer_y.axis_label_standoff = -36
    p.add_layout(outer_y, "left")
    return p


figs = [make_panel(PANEL_A, PANEL_LETTERS[0], 64),
        make_panel(PANEL_B, PANEL_LETTERS[1], 63),
        make_panel(PANEL_C, PANEL_LETTERS[2], 62),
        make_panel(PANEL_D, PANEL_LETTERS[3], 57)]

layout = column(*figs)
open("out.html", "w").write(file_html(layout, INLINE))
